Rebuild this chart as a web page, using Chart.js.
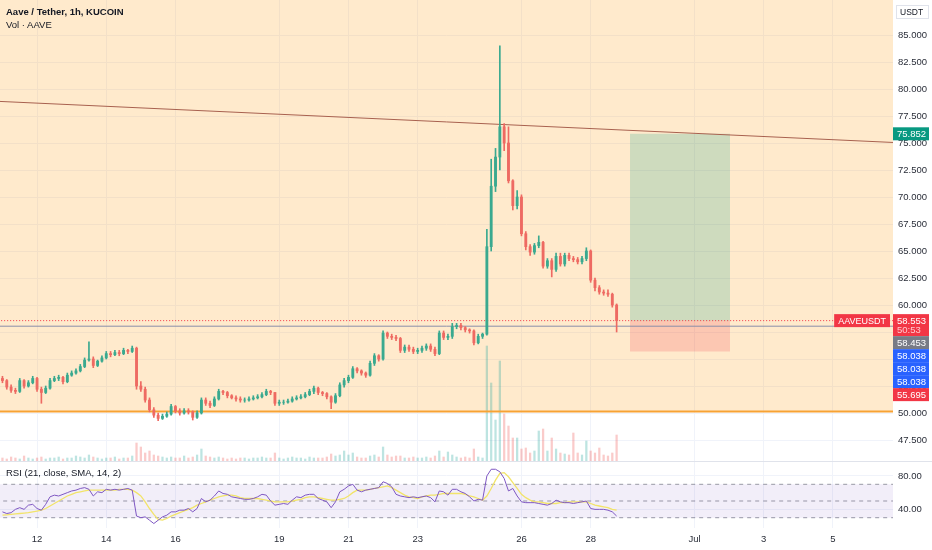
<!DOCTYPE html>
<html>
<head>
<meta charset="utf-8">
<script src="https://cdn.jsdelivr.net/npm/chart.js@4.4.1/dist/chart.umd.min.js"></script>
<style>
  body { margin: 0; background: #ffffff; }
  #wrap { position: relative; width: 932px; height: 550px; overflow: hidden; }
  canvas { position: absolute; left: 0; }
  .txt { position: absolute; left: 6px; font-family: "Liberation Sans", Arial, sans-serif; font-size: 9.5px; color: #131722; white-space: nowrap; line-height: 12px; }
</style>
</head>
<body>
<div id="wrap">
  <canvas id="graficoPreco" width="932" height="461" style="top:0"></canvas>
  <div style="position:absolute;left:0;top:461px;width:932px;height:1px;background:#e0e3eb"></div>
  <canvas id="graficoRsi" width="932" height="88" style="top:462px"></canvas>
  <div class="txt" style="top:6px;font-weight:bold">Aave / Tether, 1h, KUCOIN</div>
  <div class="txt" style="top:19px">Vol · AAVE</div>
  <div class="txt" style="top:467px">RSI (21, close, SMA, 14, 2)</div>
</div>
<script>
// candles de 3h, a partir de 11/jun 00:00 (horas contadas desde 12/jun 00:00)
const START_HOUR = -24;
const STEP_HOURS = 3;

const opens = [
  53.2,53.0,52.4,52.1,52.0,53.0,52.5,52.8,53.2,52.2,
  51.9,52.3,53.0,53.2,53.3,52.9,53.5,53.7,53.9,54.3,
  54.9,55.0,54.4,54.8,55.1,55.5,55.4,55.6,55.5,55.8,
  55.7,56.0,52.5,52.2,51.2,50.3,49.8,49.5,49.7,49.9,
  50.6,50.2,50.0,50.2,50.1,49.6,50.0,51.2,50.9,50.7,
  51.3,52.0,51.9,51.6,51.4,51.3,51.2,51.2,51.3,51.4,
  51.5,51.7,52.0,51.9,50.9,51.0,51.0,51.1,51.3,51.4,
  51.5,51.7,52.0,52.3,51.9,51.8,51.5,51.0,51.6,52.6,
  53.0,53.3,54.1,53.9,53.7,53.5,54.6,55.3,55.0,57.4,
  57.1,57.0,56.9,55.8,56.1,55.9,55.7,55.8,56.0,56.2,
  55.9,55.5,57.4,57.0,57.1,58.0,58.1,57.9,57.7,57.6,
  56.5,57.1,57.3,65.4,71.0,73.7,76.5,75.0,71.5,69.2,
  70.0,66.6,65.4,64.9,65.5,65.8,63.6,64.1,63.3,64.5,
  63.8,64.6,64.3,64.2,64.0,64.3,65.0,62.3,61.6,61.2,
  61.1,61.0,60.0
];
const highs = [
  53.4,53.1,52.6,52.3,53.2,53.1,53.0,53.4,53.3,52.4,
  52.5,53.2,53.4,53.5,53.4,53.7,53.9,54.1,54.5,55.1,
  56.6,55.2,54.9,55.3,55.7,55.7,55.8,55.8,56.0,55.9,
  56.2,56.1,52.9,52.4,51.4,50.5,50.0,49.9,50.1,50.8,
  50.7,50.4,50.4,50.4,50.2,50.2,51.4,51.4,51.1,51.5,
  52.2,52.1,52.0,51.7,51.6,51.5,51.4,51.5,51.6,51.7,
  51.9,52.2,52.1,51.9,51.2,51.2,51.3,51.5,51.6,51.7,
  51.9,52.2,52.5,52.4,52.0,51.9,51.6,51.8,52.8,53.2,
  53.5,54.3,54.2,54.0,53.8,54.8,55.5,55.4,57.6,57.5,
  57.3,57.2,57.0,56.3,56.3,56.1,56.0,56.2,56.4,56.4,
  56.1,57.6,57.6,57.3,58.3,58.3,58.3,58.0,57.8,57.7,
  57.3,57.4,67.0,73.5,74.5,84.0,76.8,76.5,71.6,70.6,
  70.2,66.8,65.6,65.7,66.4,65.9,64.3,64.3,64.8,64.8,
  64.8,64.8,64.5,64.4,64.5,65.3,65.1,62.5,61.8,61.4,
  61.4,61.1,60.1
];
const lows = [
  52.8,52.2,51.9,51.8,51.9,52.3,52.4,52.7,52.0,50.9,
  51.8,52.2,52.9,53.0,52.7,52.8,53.4,53.6,53.8,54.2,
  54.8,54.2,54.3,54.7,55.0,55.2,55.3,55.3,55.4,55.5,
  55.6,52.2,52.0,51.0,50.1,49.6,49.3,49.4,49.6,49.8,
  50.0,49.8,49.9,49.9,49.35,49.5,49.9,50.7,50.5,50.6,
  51.2,51.7,51.4,51.3,51.1,51.0,51.0,51.1,51.2,51.3,
  51.4,51.6,51.7,50.7,50.7,50.8,50.9,51.0,51.2,51.3,
  51.4,51.6,51.8,51.7,51.6,51.3,50.4,50.9,51.5,52.4,
  52.8,53.2,53.7,53.5,53.3,53.4,54.4,54.8,54.9,56.9,
  56.8,56.7,55.6,55.6,55.7,55.5,55.5,55.6,55.8,55.7,
  55.3,55.4,56.8,56.8,56.9,57.8,57.7,57.5,57.4,56.3,
  56.4,56.9,57.2,65.0,70.5,72.5,74.3,71.3,68.8,68.9,
  66.4,65.1,64.6,64.7,65.3,63.4,63.4,62.6,63.1,63.6,
  63.6,64.1,64.0,63.8,63.8,64.1,62.1,61.3,61.0,60.9,
  60.8,59.8,57.5
];
const closes = [
  53.0,52.4,52.1,52.0,53.0,52.5,52.8,53.2,52.2,51.9,
  52.3,53.0,53.2,53.3,52.9,53.5,53.7,53.9,54.3,54.9,
  55.0,54.4,54.8,55.1,55.5,55.4,55.6,55.5,55.8,55.7,
  56.0,52.5,52.2,51.2,50.3,49.8,49.5,49.7,49.9,50.6,
  50.2,50.0,50.2,50.1,49.6,50.0,51.2,50.9,50.7,51.3,
  52.0,51.9,51.6,51.4,51.3,51.2,51.2,51.3,51.4,51.5,
  51.7,52.0,51.9,50.9,51.0,51.0,51.1,51.3,51.4,51.5,
  51.7,52.0,52.3,51.9,51.8,51.5,51.0,51.6,52.6,53.0,
  53.3,54.1,53.9,53.7,53.5,54.6,55.3,55.0,57.4,57.1,
  57.0,56.9,55.8,56.1,55.9,55.7,55.8,56.0,56.2,55.9,
  55.5,57.4,57.0,57.1,58.0,58.1,57.9,57.7,57.6,56.5,
  57.1,57.3,65.4,71.0,73.7,76.5,75.0,71.5,69.2,70.0,
  66.6,65.4,64.9,65.5,65.8,63.6,64.1,63.3,64.5,63.8,
  64.6,64.3,64.2,64.0,64.3,65.0,62.3,61.6,61.2,61.1,
  61.0,60.0,58.553
];
const volumes = [
  3,2,4,3,2,5,3,2,3,4,
  2,3,3,4,2,3,3,5,4,3,
  6,4,3,2,3,3,4,2,3,3,
  5,18,14,8,10,6,5,4,3,4,
  3,3,5,3,4,6,12,5,4,3,
  4,3,2,3,2,3,3,2,3,3,
  4,3,3,8,3,2,3,4,3,3,
  2,4,3,3,3,4,7,5,6,10,
  6,8,4,3,3,5,6,4,14,6,
  4,5,5,3,3,4,3,3,4,3,
  5,10,4,9,6,4,3,4,3,12,
  4,3,115,78,41,100,47,35,23,23,
  12,13,8,10,30,32,10,23,12,8,
  7,6,28,8,6,20,10,8,13,6,
  5,8,26
];
const rsi = [
  37,35,36,40,42,40,45,46,41,39,
  46,55,57,56,58,60,62,63,65,66,
  64,56,61,60,64,63,64,63,64,65,
  63,32,30,31,27,23,27,31,33,37,
  37,39,39,41,37,41,53,49,51,56,
  62,59,58,55,54,53,52,52,53,55,
  58,57,50,45,46,47,46,51,55,54,
  57,58,58,53,51,49,42,49,61,64,
  68,70,63,61,63,64,65,66,73,71,
  67,58,56,55,54,55,54,55,56,54,
  49,62,61,57,64,64,61,59,55,50,
  52,51,80,88,88,85,77,62,65,56,
  49,48,48,48,47,46,45,47,51,49,
  48,48,47,48,49,50,41,40,40,40,
  39,37,32
];
const rsiSma = [
  33,33.5,34,34.5,35,35.5,36,37,38,39,
  41,44,47,50,53,56,58,60,61,62,
  63,63,63,63,63,63,63,64,64,64,
  63,60,56,49,41,34,28,27,29,32,
  34,36,38,40,42,45,47,49,51,53,
  55,56,57,57,56,54,53,53,53,53,
  52,51,50,49,49,49,49,50,51,52,
  54,55,55,54,53,52,51,51,52,53,
  56,60,63,63,63,64,65,66,67,68,
  66,63,60,57,55,54,53,55,56,57,
  57,58,59,59,59,59,59,58,56,55,
  53,51,56,65,75,83,84,79,72,65,
  58,54,51,49,49,48,47,47,47,48,
  48,49,49,49,49,49,47,45,44,43,
  42,40,39
];

// eixo de tempo (horas desde 12/jun 00:00)
const tickHours = [0, 48, 96, 168, 216, 264, 336, 384, 456, 504, 552];
const tickLabels = ['12', '14', '16', '19', '21', '23', '26', '28', 'Jul', '3', '5'];
const X_MIN = -25.7;
const X_MAX = 593.7;

// eixo de preco
const priceTicks = [47.5, 50, 52.5, 55, 57.5, 60, 62.5, 65, 67.5, 70, 72.5, 75, 77.5, 80, 82.5, 85];
const PRICE_MIN = 45.556;
const PRICE_MAX = 88.241;
const VOL_MAX = 461;

// desenhos
const supportLevel = 50.15;
const trendHours = [-25.7, 593.7];
const trendPrices = [78.85, 75.05];
const positionHours = [411.3, 480.7];
const targetPrice = 75.852;
const entryPrice = 58.553;
const stopPrice = 55.695;
const lastPrice = 58.553;
const bluePrice = 58.038;

// etiquetas do eixo de preco
const tagValues = [75.852, 58.553, 58.453, 58.038, 58.038, 58.038, 55.695];
const tagColors = ['#089981', '#f23645', '#787b86', '#2962ff', '#2962ff', '#2962ff', '#f23645'];
const tagSubs = ['', '50:53', '', '', '', '', ''];

// rsi
const rsiTicks = [40, 80];
const rsiBands = [70, 50, 30];
const RSI_MIN = 17.66;
const RSI_MAX = 96.7;

const GRID = '#f0f3fa';
const TEXT = '#2a2e39';
const FONT = { family: '"Liberation Sans", Arial, sans-serif', size: 9.5 };
const UP = '#3aa98f';
const DOWN = '#ee6a62';

const candleHours = closes.map((_, i) => START_HOUR + i * STEP_HOURS);
const isUp = closes.map((c, i) => c >= opens[i]);

function hline(value, color, dash, width) {
    return {
        type: 'line', yAxisID: 'y',
        data: [{ x: X_MIN - 20, y: value }, { x: X_MAX + 20, y: value }],
        borderColor: color, borderWidth: width, borderDash: dash,
        pointRadius: 0, fill: false
    };
}

function zone(hours, top, bottom, color) {
    return {
        type: 'line', yAxisID: 'y',
        data: hours.map(h => ({ x: h, y: top })),
        borderWidth: 0, pointRadius: 0,
        backgroundColor: color, fill: { value: bottom }
    };
}

// etiquetas coloridas no eixo direito, empilhadas p/ nao sobrepor
const etiquetasPlugin = {
    id: 'etiquetas',
    afterDraw(chart) {
        const { ctx, chartArea } = chart;
        const y = chart.scales.y;
        const left = chartArea.right;
        ctx.save();
        ctx.textBaseline = 'middle';

        // caixa USDT
        ctx.fillStyle = '#ffffff';
        ctx.strokeStyle = '#e0e3eb';
        ctx.lineWidth = 1;
        ctx.fillRect(left + 3.5, 5.5, 32, 13);
        ctx.strokeRect(left + 3.5, 5.5, 32, 13);
        ctx.fillStyle = '#131722';
        ctx.font = '8.5px "Liberation Sans", Arial, sans-serif';
        ctx.fillText('USDT', left + 7, 12.5);

        ctx.font = '9.5px "Liberation Sans", Arial, sans-serif';
        let proximoTopo = -Infinity;
        tagValues.forEach((v, i) => {
            const h = tagSubs[i] ? 22 : 13;
            const topo = Math.max(y.getPixelForValue(v) - 6.5, proximoTopo);
            ctx.fillStyle = tagColors[i];
            ctx.fillRect(left, topo, 36, h);
            ctx.fillStyle = '#ffffff';
            ctx.fillText(v.toFixed(3), left + 4, topo + 7);
            if (tagSubs[i]) {
                ctx.fillStyle = '#ffc9cd';
                ctx.fillText(tagSubs[i], left + 4, topo + 16);
            }
            proximoTopo = topo + h;
        });

        // nome do simbolo na linha do preco atual
        const py = y.getPixelForValue(lastPrice);
        const nome = 'AAVEUSDT';
        ctx.font = '9px "Liberation Sans", Arial, sans-serif';
        const w = ctx.measureText(nome).width + 8;
        ctx.fillStyle = '#f23645';
        ctx.fillRect(left - 3 - w, py - 6.5, w, 13);
        ctx.fillStyle = '#ffffff';
        ctx.fillText(nome, left - 3 - w + 4, py + 0.5);
        ctx.restore();
    }
};

const eixoX = (comRotulos) => ({
    type: 'linear', min: X_MIN, max: X_MAX, offset: false,
    grid: { color: GRID, drawTicks: false, offset: false },
    border: { display: false },
    ticks: {
        display: comRotulos, padding: 6, color: TEXT, font: FONT,
        maxRotation: 0, autoSkip: false,
        callback: v => { const k = tickHours.indexOf(v); return k >= 0 ? tickLabels[k] : ''; }
    },
    afterBuildTicks: s => { s.ticks = tickHours.map(v => ({ value: v })); },
    afterFit: s => { s.height = comRotulos ? 22 : 0; s.paddingLeft = 0; s.paddingRight = 0; }
});

function renderizarGraficoPreco() {
    const ctx = document.getElementById('graficoPreco').getContext('2d');
    new Chart(ctx, {
        type: 'bar',
        data: {
            datasets: [
                // retangulo laranja (zona)
                {
                    type: 'line', yAxisID: 'y', order: 20,
                    data: [{ x: X_MIN - 20, y: PRICE_MAX + 10 }, { x: X_MAX + 20, y: PRICE_MAX + 10 }],
                    borderWidth: 0, pointRadius: 0,
                    backgroundColor: 'rgba(255,152,0,0.2)', fill: { value: supportLevel }
                },
                {
                    type: 'bar', yAxisID: 'yVol', order: 15, grouped: false, barThickness: 1.6,
                    data: volumes.map((v, i) => ({ x: candleHours[i], y: v })),
                    backgroundColor: isUp.map(u => u ? 'rgba(38,166,154,0.3)' : 'rgba(239,83,80,0.3)')
                },
                { ...zone(positionHours, targetPrice, entryPrice, 'rgba(8,153,129,0.2)'), order: 12 },
                { ...zone(positionHours, entryPrice, stopPrice, 'rgba(242,54,69,0.2)'), order: 12 },
                { ...hline(supportLevel, '#f7a234', [], 2), order: 10 },
                {
                    type: 'line', yAxisID: 'y', order: 9,
                    data: trendHours.map((h, i) => ({ x: h, y: trendPrices[i] })),
                    borderColor: '#a8614f', borderWidth: 1, pointRadius: 0, fill: false
                },
                { ...hline(bluePrice, '#8a8fa8', [], 1), order: 8 },
                { ...hline(lastPrice, '#f23645', [1, 2], 1), order: 7 },
                // pavios
                {
                    type: 'bar', yAxisID: 'y', order: 2, grouped: false, barThickness: 1,
                    data: candleHours.map((h, i) => ({ x: h, y: [lows[i], highs[i]] })),
                    backgroundColor: isUp.map(u => u ? UP : DOWN)
                },
                // corpos
                {
                    type: 'bar', yAxisID: 'y', order: 1, grouped: false, barThickness: 2.2,
                    data: candleHours.map((h, i) => ({ x: h, y: [opens[i], closes[i]] })),
                    backgroundColor: isUp.map(u => u ? UP : DOWN)
                }
            ]
        },
        options: {
            responsive: false,
            animation: false,
            layout: { padding: 0 },
            plugins: { legend: { display: false }, tooltip: { enabled: false } },
            scales: {
                x: eixoX(false),
                y: {
                    position: 'right', min: PRICE_MIN, max: PRICE_MAX,
                    grid: { color: GRID, drawTicks: false },
                    border: { display: false },
                    ticks: { padding: 5, color: TEXT, font: FONT, callback: v => Number(v).toFixed(3) },
                    afterBuildTicks: s => { s.ticks = priceTicks.map(v => ({ value: v })); },
                    afterFit: s => { s.width = 39; s.paddingTop = 0; s.paddingBottom = 0; }
                },
                yVol: { display: false, min: 0, max: VOL_MAX }
            }
        },
        plugins: [etiquetasPlugin]
    });
}

function renderizarGraficoRsi() {
    const ctx = document.getElementById('graficoRsi').getContext('2d');
    const banda = (v, fill) => ({
        type: 'line',
        data: [{ x: X_MIN - 20, y: v }, { x: X_MAX + 20, y: v }],
        borderColor: 'rgba(120,123,134,0.75)', borderWidth: 1, borderDash: [4, 4],
        pointRadius: 0,
        backgroundColor: 'rgba(126,87,194,0.1)', fill
    });
    new Chart(ctx, {
        type: 'line',
        data: {
            datasets: [
                { ...banda(rsiBands[0], { value: rsiBands[2] }), order: 10 },
                { ...banda(rsiBands[1], false), order: 10 },
                { ...banda(rsiBands[2], false), order: 10 },
                {
                    data: rsiSma.map((v, i) => ({ x: candleHours[i], y: v })),
                    borderColor: '#f2e46a', borderWidth: 1.3, pointRadius: 0, fill: false, order: 2
                },
                {
                    data: rsi.map((v, i) => ({ x: candleHours[i], y: v })),
                    borderColor: '#7e57c2', borderWidth: 1, pointRadius: 0, fill: false, order: 1
                }
            ]
        },
        options: {
            responsive: false,
            animation: false,
            layout: { padding: 0 },
            plugins: { legend: { display: false }, tooltip: { enabled: false } },
            scales: {
                x: eixoX(true),
                y: {
                    position: 'right', min: RSI_MIN, max: RSI_MAX,
                    grid: { color: GRID, drawTicks: false },
                    border: { display: false },
                    ticks: { padding: 5, color: TEXT, font: FONT, callback: v => Number(v).toFixed(2) },
                    afterBuildTicks: s => { s.ticks = rsiTicks.map(v => ({ value: v })); },
                    afterFit: s => { s.width = 39; s.paddingTop = 0; s.paddingBottom = 0; }
                }
            }
        }
    });
}

renderizarGraficoPreco();
renderizarGraficoRsi();
</script>
</body>
</html>
